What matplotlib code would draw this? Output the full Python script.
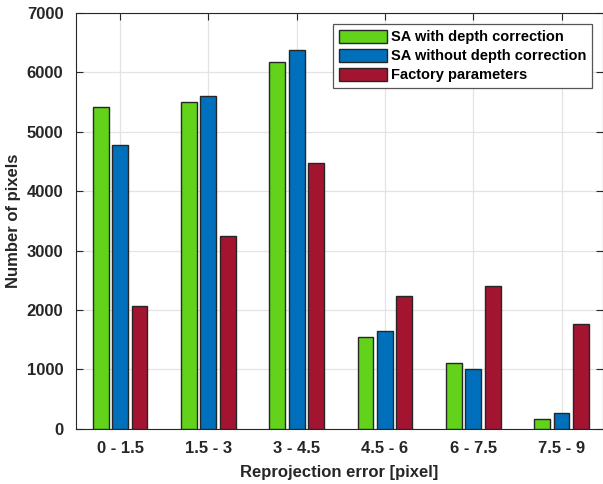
import numpy as np
import matplotlib
matplotlib.use("Agg")
import matplotlib.pyplot as plt

plt.rcParams["font.family"] = ["Liberation Sans", "DejaVu Sans"]
plt.rcParams["font.weight"] = "bold"

bins = ["0 - 1.5", "1.5 - 3", "3 - 4.5", "4.5 - 6", "6 - 7.5", "7.5 - 9"]
sa_depth = [5420, 5500, 6170, 1540, 1100, 160]
sa_no_depth = [4780, 5600, 6370, 1640, 1010, 260]
factory = [2060, 3240, 4480, 2240, 2400, 1770]

series = [
    ("SA with depth correction", sa_depth, "#62d21a"),
    ("SA without depth correction", sa_no_depth, "#0070bd"),
    ("Factory parameters", factory, "#a2142f"),
]

fig = plt.figure(figsize=(6.03, 4.84), dpi=100)
ax = fig.add_axes([0.126, 0.114, 0.874, 0.859])

x = np.arange(1, len(bins) + 1)
width = 0.18
offset = 0.22
for i, (name, vals, col) in enumerate(series):
    ax.bar(x + (i - 1) * offset, vals, width, color=col, edgecolor="#262626",
           linewidth=1.0, label=name, zorder=3)

ax.set_xlim(0.5, 6.47)
ax.set_ylim(0, 7000)
ax.set_xticks(x)
ax.set_xticklabels(bins)
ax.set_yticks(range(0, 7001, 1000))
ax.tick_params(direction="in", labelsize=12, length=5, color="#262626",
               right=True, top=True, pad=9)
for lab in ax.get_xticklabels() + ax.get_yticklabels():
    lab.set_fontweight("bold")
    lab.set_color("#262626")
ax.grid(True, color="#e3e3e3", linewidth=0.9, zorder=0)
for s in ax.spines.values():
    s.set_color("#262626")
    s.set_linewidth(0.8)

ax.set_xlabel("Reprojection error [pixel]", fontsize=12, fontweight="bold",
              color="#262626", labelpad=6)
ax.set_ylabel("Number of pixels", fontsize=12, fontweight="bold",
              color="#262626", labelpad=4)

leg = ax.legend(loc="upper right", bbox_to_anchor=(0.985, 0.98),
                prop={"weight": "bold", "size": 10.5}, fancybox=False,
                framealpha=1, edgecolor="#555555", borderpad=0.4,
                labelspacing=0.32, handlelength=3.3, handleheight=0.95,
                handletextpad=0.25, borderaxespad=0.2)
leg.get_frame().set_linewidth(0.9)

fig.savefig("out.png", dpi=100)
